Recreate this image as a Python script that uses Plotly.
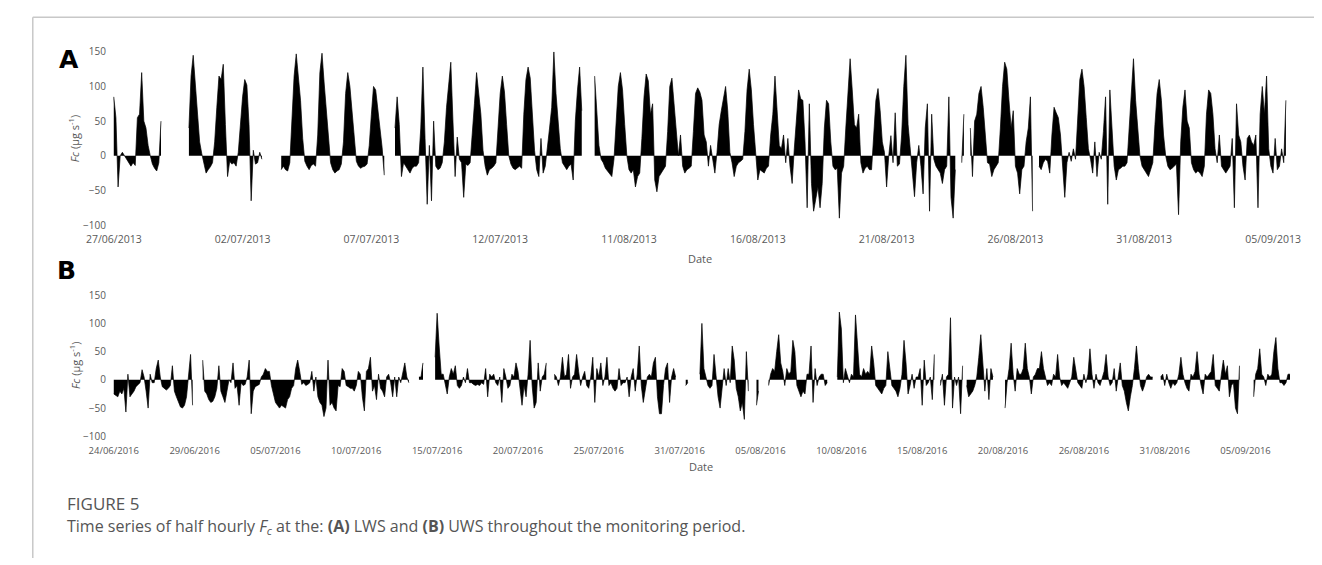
import plotly.graph_objects as go

# ---------------- DATA ----------------
# Panel A (LWS, 2013): Fc values read at 2-hourly steps (every 4 half-hours); None = missing data
a_vals = [
    85, 55, -45, 0, 5, 0, -5, -12, -15, -10, -14, 55,
    60, 120, 50, 40, 15, 0, -12, -18, -22, -10, 50, None,
    None, None, None, None, None, None, None, None, None, None, None, 40,
    115, 145, 100, 70, 20, 3, -12, -25, -20, -16, -10, 20,
    70, 115, 110, 132, 45, -30, -8, -12, -10, -15, 5, 50,
    85, 110, 102, 45, -65, 8, -12, -10, 5, -5, None, None,
    None, None, None, None, None, None, -20, -15, -20, -22, -10, 60,
    115, 147, 118, 80, 25, -8, -15, -20, -14, -12, -15, 30,
    120, 148, 105, 65, 20, -10, -20, -25, -22, -20, -12, 20,
    90, 120, 100, 60, 25, -8, -15, -18, -16, -15, -12, 15,
    60, 100, 95, 70, 40, 12, -28, None, None, None, None, 40,
    85, 45, -30, -10, -15, -20, -25, -18, -15, -15, -10, 40,
    128, 25, -70, 15, -65, 50, -15, -20, -18, -10, 20, 70,
    100, 135, 50, -30, 27, -5, -10, -60, -12, -14, -10, 40,
    75, 120, 90, 60, 8, -15, -28, -20, -18, -15, -10, 45,
    90, 115, 92, 45, 0, -12, -18, -20, -17, -15, -18, 60,
    110, 128, 112, 65, 8, -20, -30, 25, -25, -15, 10, 40,
    70, 150, 90, 50, 10, -10, -15, -20, -15, -12, -35, 50,
    95, 128, 65, None, None, None, None, None, 115, 60, 15, -5,
    -10, -18, -22, -25, -30, -5, 40, 100, 120, 95, 45, 0,
    -20, -25, -20, -45, -30, -25, 25, 85, 118, 108, 60, 75,
    -35, -52, -30, -25, -20, -15, 35, 100, 112, 75, 30, 0,
    30, -15, -25, -20, -18, -15, 35, 90, 98, 92, 80, 30,
    20, -15, 15, -5, -25, 5, 45, 65, 85, 100, 65, 5,
    -10, -30, -15, -10, -8, -5, 35, 95, 125, 95, 45, 5,
    -35, -20, -22, -25, -18, -15, 30, 60, 115, 65, 15, 10,
    30, -10, 25, -15, -40, 10, 60, 95, 82, 80, 20, -75,
    75, -40, -80, -60, -45, -75, -40, 40, 80, 75, 20, -15,
    -20, -18, -90, -25, -15, 40, 100, 140, 95, 45, 40, 60,
    -10, -25, -18, -15, -20, -20, 30, 80, 97, 65, 20, 5,
    -45, 0, 29, -10, 62, -15, -12, 30, 100, 145, 45, 10,
    -20, -59, -10, 15, -15, -55, 40, 75, -80, 60, -5, -15,
    -20, -25, -40, -20, -15, 85, -60, -90, -20, None, None, -10,
    60, None, None, 40, -30, 50, 60, 90, 100, 70, 25, -10,
    -12, -30, -20, -15, -10, 40, 100, 135, 125, 80, 40, 65,
    -15, -25, -55, -20, -15, 20, 40, 85, -80, None, None, -15,
    -20, -10, -5, -8, -25, 30, 70, 62, 55, 30, -10, -60,
    -10, 5, -8, 10, -5, 60, 110, 125, 100, 55, 10, -5,
    -25, 20, -30, 5, -5, 35, 85, -70, 95, 40, -15, -35,
    -20, -18, -15, -15, -10, 40, 90, 140, 80, 40, 0, -15,
    -20, -25, -30, -20, -10, 45, 90, 110, 80, 30, 0, -15,
    -20, -18, -15, -12, -85, 20, 70, 95, 50, 40, -10, -20,
    -25, -22, -25, -30, -15, 60, 95, 90, 60, 10, -10, 30,
    -15, -20, -25, -20, -15, 25, -75, 75, 30, 20, -15, -35,
    25, 30, 20, 15, 30, -75, 60, 100, 60, 115, 10, -15,
    -25, 25, -20, -15, 10, -10, 80,
]
a_step = 4  # half-hours per reading
a_tick_labels = ["27/06/2013", "02/07/2013", "07/07/2013", "12/07/2013", "11/08/2013",
                 "16/08/2013", "21/08/2013", "26/08/2013", "31/08/2013", "05/09/2013"]

# Panel B (UWS, 2016): Fc values read at 3-hourly steps (every 6 half-hours)
b_vals = [
    -25, -28, -30, -20, -25, -15, -57, 10, -30, -25, -20, -12,
    -8, -5, 18, 5, -20, -50, 10, -5, -5, 20, 35, 5,
    -12, -15, -18, -15, -10, 25, -20, -30, -40, -48, -50, -45,
    -30, 10, 45, -45, None, None, None, None, 35, -20, -25, -35,
    -40, -38, -30, -15, 25, -20, -30, -40, -20, 0, -5, 30,
    -15, -10, -45, -5, -10, -8, 5, 35, -60, -20, -12, -10,
    -8, 5, 10, 20, 15, 15, -10, -25, -40, -45, -50, -45,
    -48, -50, -35, -30, -15, -10, 20, 35, 15, -8, -5, -10,
    -8, -5, 15, -20, 5, -30, -40, -45, -65, -50, 35, -45,
    -40, -50, -55, -10, -12, 20, 15, -10, -12, -15, -15, -20,
    -10, 15, 10, -30, -55, 15, 20, 40, -20, -10, -35, 10,
    -15, -20, -30, 5, 10, -5, -30, 5, -30, 5, -5, 10,
    30, 5, -5, None, None, None, None, 5, 5, 30, None, None,
    None, None, None, 40, 118, 60, 10, 10, -10, -25, 5, 20,
    10, 25, -10, -15, -10, 5, -5, 20, -5, -5, -8, -10,
    -8, -10, -5, -8, 20, -30, 10, 5, 10, -5, -10, 5,
    -40, 20, 5, -15, -10, 10, 5, 30, 15, -20, -45, -10,
    -30, 10, 70, -10, -50, -40, 30, -20, 5, 10, 30, None,
    None, None, 10, 5, -10, 5, 40, 5, 10, 45, -15, 5,
    10, 45, 15, -10, 5, 15, -10, -15, 5, 40, -40, 20,
    5, 30, -10, 5, 40, -10, -5, -15, -20, -15, 20, -10,
    -5, -5, 5, -30, 5, 20, -20, 10, 60, -10, -40, -20,
    5, 10, 5, 30, 40, -30, -60, -60, -10, 20, 30, -40,
    5, 20, 5, None, None, None, None, -10, -5, None, None, None,
    None, None, 10, 100, 20, 5, -10, -15, -10, 45, 5, -30,
    -50, -20, 20, -10, 20, -5, 60, 35, -15, -30, -55, -40,
    -70, 50, -20, None, None, None, -45, -20, None, None, None, None,
    -10, 10, 20, 15, 50, 80, 30, 15, -10, 20, 10, 15,
    70, 50, -10, -20, -30, -20, -25, 10, 10, 60, -40, 20,
    -10, 5, 10, 10, -10, -5, None, None, None, None, 5, 120,
    90, -5, 20, 5, -5, 10, 5, 115, 60, 10, 5, 20,
    10, 15, 10, 60, 30, -10, -15, -20, -25, -15, -10, 50,
    20, -10, -15, -20, -30, -15, 10, 70, 30, -25, -10, 10,
    -15, 5, 5, 20, -45, 35, -10, -5, 5, -35, 45, None,
    None, -10, 10, -45, 5, 10, 110, -50, 5, -10, 5, -60,
    25, None, -10, -30, -25, -20, -10, 5, 40, 80, 30, -20,
    20, -35, 20, 5, None, None, None, None, None, -50, -5, 20,
    65, 10, -20, 20, 10, 10, 20, 65, 20, 5, -25, 5,
    10, 20, 20, 50, 20, 5, -10, -5, -10, 10, 5, 45,
    5, -10, -5, -10, -15, -5, 5, 40, 15, -5, -10, -15,
    10, -5, 10, 55, 10, -15, 10, -5, -10, 5, 15, 45,
    5, -10, -5, 20, -20, 5, 30, -10, -20, -40, -55, -30,
    -10, 20, 60, 20, -10, -20, -10, 5, 10, 5, 5, None,
    None, None, 5, 10, -10, 10, -5, -15, -5, -10, -5, 10,
    40, 10, -5, -15, -20, 10, 5, 15, 50, 10, -10, -25,
    10, 5, 10, 15, 45, -10, -15, -20, 10, 35, 10, 25,
    -30, -10, -5, -50, -60, 25, None, None, None, None, None, None,
    -30, 10, 20, 55, 10, 5, -10, 10, 5, 10, 50, 75,
    20, -5, -5, -10, -5, 10, 10,
]
b_step = 6
b_tick_labels = ["24/06/2016", "29/06/2016", "05/07/2016", "10/07/2016", "15/07/2016",
                 "20/07/2016", "25/07/2016", "31/07/2016", "05/08/2016", "10/08/2016",
                 "15/08/2016", "20/08/2016", "26/08/2016", "31/08/2016", "05/09/2016"]
label_every = 240  # half-hours between date labels (5 days)
y_ticks = [-100, -50, 0, 50, 100, 150]

# ---------------- FIGURE ----------------
W, H = 1322, 565
def px(x): return x / W
def py(y): return 1 - y / H

fig = go.Figure()

def add_series(vals, step, xa, ya):
    """One filled trace per run of readings, so missing data leaves a real gap."""
    seg_x, seg_y = [], []
    for i, v in enumerate(list(vals) + [None]):
        if v is None:
            if len(seg_x) > 1:
                fig.add_trace(go.Scatter(x=seg_x, y=seg_y, mode="lines", fill="tozeroy",
                                         line=dict(color="black", width=0.7),
                                         fillcolor="black", xaxis=xa, yaxis=ya,
                                         showlegend=False, hoverinfo="skip"))
            seg_x, seg_y = [], []
        else:
            seg_x.append(i * step)
            seg_y.append(v)

add_series(a_vals, a_step, "x", "y")
add_series(b_vals, b_step, "x2", "y2")

L, R = 88, 1300
a_ppx = 0.55      # pixels per half-hour in panel A
b_ppx = 0.3452    # pixels per half-hour in panel B
x0 = 92
grey = "#595959"
tick_font_a = dict(family="Open Sans", size=10.5, color=grey)
tick_font_b = dict(family="Open Sans", size=9.5, color=grey)
ytick_font = dict(family="Open Sans", size=10, color=grey)

common = dict(showgrid=False, zeroline=False, showline=False, ticks="")
fig.update_layout(
    width=W, height=H, margin=dict(l=0, r=0, t=0, b=0),
    paper_bgcolor="white", plot_bgcolor="white",
    xaxis=dict(domain=[px(L), px(R)], range=[(L - x0) / a_ppx, (R - x0) / a_ppx],
               tickvals=[i * label_every for i in range(len(a_tick_labels))],
               ticktext=a_tick_labels, tickfont=tick_font_a, anchor="y",
               ticklabelstandoff=6, **common),
    yaxis=dict(domain=[py(223), py(45)], range=[-100, 150], tickvals=y_ticks,
               tickfont=ytick_font, anchor="x", ticklabelstandoff=3, **common),
    xaxis2=dict(domain=[px(L), px(R)], range=[(L - x0) / b_ppx, (R - x0) / b_ppx],
                tickvals=[i * label_every for i in range(len(b_tick_labels))],
                ticktext=b_tick_labels, tickfont=tick_font_b, anchor="y2",
                ticklabelstandoff=7, **common),
    yaxis2=dict(domain=[py(440), py(295)], range=[-100, 150], tickvals=y_ticks,
                tickfont=ytick_font, anchor="x2", ticklabelstandoff=3, **common),
)

ann = []
ann.append(dict(text="A", x=px(46), y=py(53),
                font=dict(family="DejaVu Sans", size=25, color="black", weight="bold")))
ann.append(dict(text="B", x=px(44), y=py(270),
                font=dict(family="DejaVu Sans", size=25, color="black", weight="bold")))
ytitle = "<i>Fc</i> (μg s<sup>-1</sup>)"
ann.append(dict(text=ytitle, x=px(52), y=py(134), textangle=-90,
                font=dict(family="Open Sans", size=11, color=grey)))
ann.append(dict(text=ytitle, x=px(53), y=py(367), textangle=-90,
                font=dict(family="Open Sans", size=11, color=grey)))
ann.append(dict(text="Date", x=px(693), y=py(257), font=dict(family="Open Sans", size=11, color=grey)))
ann.append(dict(text="Date", x=px(694), y=py(471), font=dict(family="Open Sans", size=11, color=grey)))
ann.append(dict(text="FIGURE 5", x=px(42), y=py(509), xanchor="left",
                font=dict(family="Open Sans", size=17, color="#555555")))
ann.append(dict(text="Time series of half hourly <i>F<sub>c</sub></i> at the: <b>(A)</b> LWS and <b>(B)</b> UWS throughout the monitoring period.",
                x=px(42), y=py(533), xanchor="left",
                font=dict(family="Open Sans", size=16, color="#555555")))
for a in ann:
    a.setdefault("xanchor", "center")
    a.update(xref="paper", yref="paper", showarrow=False, yanchor="middle")
fig.update_layout(annotations=ann)

fig.update_layout(shapes=[
    dict(type="line", xref="paper", yref="paper", x0=px(9), x1=1, y0=py(9.5), y1=py(9.5),
         line=dict(color="#c8c8c8", width=1.5)),
    dict(type="line", xref="paper", yref="paper", x0=px(9), x1=px(9), y0=py(9.5), y1=0,
         line=dict(color="#c8c8c8", width=1.5)),
])

fig.write_html("out.html")
